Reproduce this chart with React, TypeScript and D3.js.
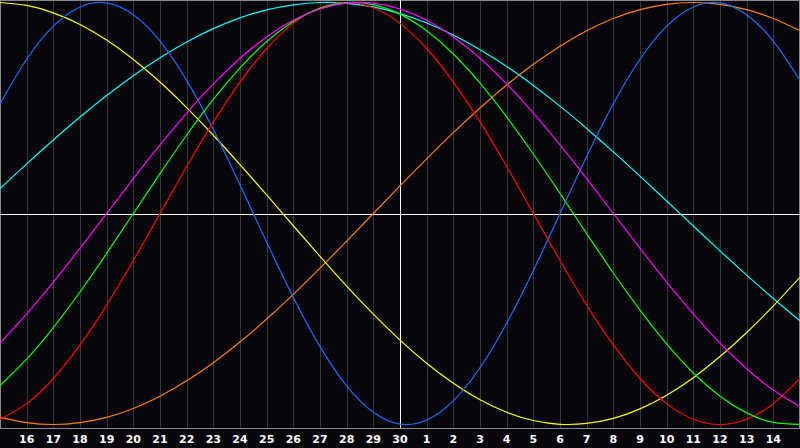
import React, { useEffect, useRef } from 'react';
import * as d3 from 'd3';

// day labels under the gridlines (positions 1..29)
const DAY_LABELS = [
  '16', '17', '18', '19', '20', '21', '22', '23', '24', '25', '26', '27', '28', '29', '30',
  '1', '2', '3', '4', '5', '6', '7', '8', '9', '10', '11', '12', '13', '14',
];

// values (percent) sampled at each position 0..30 (15th .. 15th)
const CYAN = [
  11.8, 23.5, 34.8, 45.7, 55.9, 65.3, 73.8, 81.3, 87.6, 92.7, 96.5, 98.9, 100, 99.6, 97.9, 94.7,
  90.3, 84.6, 77.6, 69.7, 60.7, 50.9, 40.3, 29.2, 17.7, 5.9, -5.9, -17.7, -29.2, -40.3, -50.9,
];
const ORANGE = [
  -96.6, -99.1, -100, -99.1, -96.6, -92.4, -86.6, -79.3, -70.7, -60.9, -50, -38.3, -25.9, -13.1, 0, 13.1,
  25.9, 38.3, 50, 60.9, 70.7, 79.3, 86.6, 92.4, 96.6, 99.1, 100, 99.1, 96.6, 92.4, 86.6,
];
const YELLOW = [
  100, 98.6, 95.1, 89.6, 82.2, 73, 62.3, 50.2, 37.1, 23.2, 8.8, -5.8, -20.3, -34.4, -47.7, -60,
  -71, -80.5, -88.3, -94.2, -98.1, -99.9, -99.5, -97.1, -92.6, -86.1, -77.8, -67.8, -56.4, -43.8, -30.2,
];
const BLUE = [
  52, 73.1, 88.8, 97.9, 99.8, 94.2, 81.7, 63.1, 39.8, 13.6, -13.6, -39.8, -63.1, -81.7, -94.2, -99.8,
  -97.9, -88.8, -73.1, -52, -27, 0, 27, 52, 73.1, 88.8, 97.9, 99.8, 94.2, 81.7, 63.1,
];
const MAGENTA = [
  -61.4, -47.6, -32.5, -16.5, 0, 16.5, 32.5, 47.6, 61.4, 73.6, 83.7, 91.6, 96.9, 99.7, 99.7, 96.9,
  91.6, 83.7, 73.6, 61.4, 47.6, 32.5, 16.5, 0, -16.5, -32.5, -47.6, -61.4, -73.6, -83.7, -91.6,
];
const GREEN = [
  -81.5, -69, -54.1, -37.2, -18.9, 0, 18.9, 37.2, 54.1, 69, 81.5, 91, 97.2, 99.9, 99, 94.5,
  86.6, 75.6, 61.8, 45.8, 28.2, 9.5, -9.5, -28.2, -45.8, -61.8, -75.6, -86.6, -94.5, -99, -99.9,
];
const RED = [
  -97.5, -90.1, -78.2, -62.3, -43.4, -22.3, 0, 22.3, 43.4, 62.3, 78.2, 90.1, 97.5, 100, 97.5, 90.1,
  78.2, 62.3, 43.4, 22.3, 0, -22.3, -43.4, -62.3, -78.2, -90.1, -97.5, -100, -97.5, -90.1, -78.2,
];

const SERIES: [number[], string][] = [
  [CYAN, '#00ffff'],
  [ORANGE, '#ff7f00'],
  [YELLOW, '#ffff00'],
  [BLUE, '#1a6cff'],
  [RED, '#ff0000'],
  [GREEN, '#00ff00'],
  [MAGENTA, '#ff00ff'],
];

const App: React.FC = () => {
  const svgRef = useRef<SVGSVGElement | null>(null);

  useEffect(() => {
    if (!svgRef.current) return;
    const width = 800;
    const height = 448;
    const plotBottom = 428;

    const svg = d3.select(svgRef.current);
    svg.selectAll('*').remove();
    svg.attr('width', width).attr('height', height);

    const x = d3.scaleLinear().domain([0, 30]).range([0, width]);
    const y = d3.scaleLinear().domain([-100, 100]).range([424.5, 2.5]);

    svg.append('rect').attr('width', width).attr('height', height).attr('fill', '#07070b');

    // day gridlines
    svg.append('g')
      .selectAll('line')
      .data(DAY_LABELS)
      .enter()
      .append('line')
      .attr('x1', (d, i) => Math.round(x(i + 1)) + 0.5)
      .attr('x2', (d, i) => Math.round(x(i + 1)) + 0.5)
      .attr('y1', 0)
      .attr('y2', plotBottom)
      .attr('stroke', '#363638')
      .attr('stroke-width', 1);

    // frame
    svg.append('rect')
      .attr('x', 0.5).attr('y', 0.5)
      .attr('width', width - 1).attr('height', plotBottom)
      .attr('fill', 'none')
      .attr('stroke', '#8a8a8a')
      .attr('stroke-width', 1);

    // axes through today / zero
    const x0 = Math.round(x(15)) + 0.5;
    const y0 = Math.round(y(0)) + 0.5;
    svg.append('line').attr('x1', x0).attr('x2', x0).attr('y1', 0).attr('y2', plotBottom)
      .attr('stroke', '#ffffff').attr('stroke-width', 1);
    svg.append('line').attr('x1', 0).attr('x2', width).attr('y1', y0).attr('y2', y0)
      .attr('stroke', '#ffffff').attr('stroke-width', 1);

    const line = d3.line<number>()
      .x((d, i) => x(i))
      .y((d) => y(d))
      .curve(d3.curveNatural);

    svg.append('g')
      .selectAll('path')
      .data(SERIES)
      .enter()
      .append('path')
      .attr('d', (d) => line(d[0]))
      .attr('fill', 'none')
      .attr('stroke', (d) => d[1])
      .attr('stroke-width', 1.2);

    svg.append('g')
      .selectAll('text')
      .data(DAY_LABELS)
      .enter()
      .append('text')
      .attr('x', (d, i) => x(i + 1))
      .attr('y', 443)
      .attr('text-anchor', 'middle')
      .attr('fill', '#ffffff')
      .style('font-family', '"DejaVu Sans", sans-serif')
      .style('font-size', '11px')
      .style('font-weight', 'bold')
      .text((d) => d);
  }, []);

  return (
    <div style={{ position: 'absolute', left: 0, top: 0, width: 800, height: 448, background: '#07070b' }}>
      <svg ref={svgRef} style={{ display: 'block' }} />
    </div>
  );
};

export default App;
